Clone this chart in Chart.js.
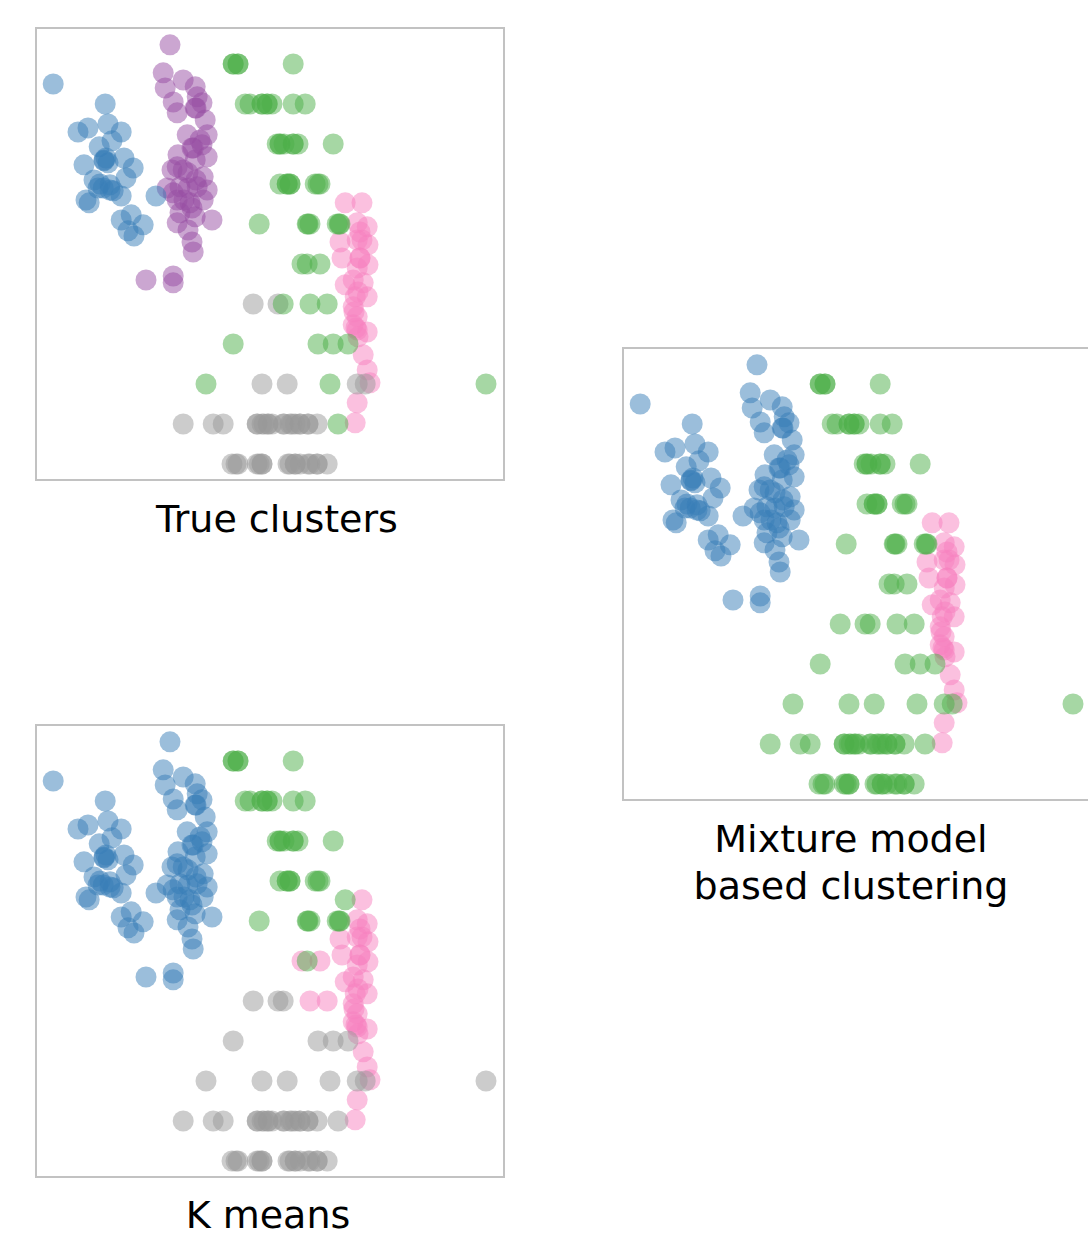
<!DOCTYPE html>
<html lang="en">
<head>
  <meta charset="UTF-8">
  <title>True clusters, mixture model and K means</title>
  <script src="https://cdn.jsdelivr.net/npm/chart.js"></script>
  <style>
    body {
      margin: 0;
      width: 1088px;
      height: 1236px;
      overflow: hidden;
      background: #fff;
      position: relative;
      font-family: "DejaVu Sans", sans-serif;
    }
    canvas {
      position: absolute;
    }
    .caption {
      position: absolute;
      width: 400px;
      text-align: center;
      font-size: 38px;
      line-height: 47px;
      color: #000;
    }
  </style>
</head>
<body>
  <canvas id="trueChart" width="470" height="454" style="left:35px;top:27px"></canvas>
  <canvas id="mixChart" width="470" height="454" style="left:622px;top:347px"></canvas>
  <canvas id="kmChart" width="470" height="454" style="left:35px;top:724px"></canvas>

  <div class="caption" style="left:77px;top:496px">True clusters</div>
  <div class="caption" style="left:651px;top:816px">Mixture model<br>based clustering</div>
  <div class="caption" style="left:68px;top:1192px">K means</div>

  <script>
    // points, grouped by true cluster: 32 / 48 / 51 / 43 / 33
    const xs = [
      4.3, 17.3, 10.5, 13, 18, 21.3, 19, 15.8, 12, 17, 18, 22, 24.3, 22.5, 14.5, 16.8,
      19.3, 21.3, 13.3, 12.5, 15.5, 30, 21.3, 23.8, 26.8, 23, 24.5, 17.5, 18.5, 17, 16, 18.5,

      33.5, 31.8, 36.8, 32.3, 39.8, 34.3, 40.3, 35.3, 39.8, 41.5, 42.3, 37.8, 42.8, 41.5,
      42.8, 39.3, 35.5, 35.3, 38, 41.8, 32.8, 36, 40.3, 42.8, 35.3, 38.5, 41.8, 36,
      39.8, 44, 35.3, 38, 39, 39.3, 34.3, 36.8, 39.8, 34, 27.5, 34.3, 34.3,
      38, 37, 40, 39, 41, 40, 39,

      49.3, 50.5, 64.3, 49.3, 50.5,
      52.3, 53.5, 56.5, 57.8, 59, 64.3, 67.3, 56.5, 57.8,
      60.3, 61, 64.3, 65.5, 74.3, 61, 62, 64.3,
      61, 62.8, 63.5, 69.8, 71, 62.8, 63.5, 70.5,
      55.8, 67.8, 68.5, 75.3, 76, 68, 75.8,
      66.5, 67.8, 71,
      61.8, 68.5, 72.8,
      49.3, 70.5, 74.3, 78,
      42.5, 73.5, 112.5,
      75.5,

      54.3, 60.5,
      56.5, 62.8, 80.3, 82.3,
      36.8, 44.3, 46.8, 55.3, 56.5, 58, 59, 61.8, 63.5, 64.8, 66, 68, 70.3,
      55.3, 58, 62, 64, 66, 68, 57,
      49, 50.5, 55.3, 56.5, 63, 64.8, 66, 68.5, 70.3, 72.8,
      50, 55.8, 56.5, 63.5, 64.8, 68, 70.3,

      77.3, 81.5, 82.8, 80.3, 76, 81.5, 83, 76.5, 81, 83, 80.3, 77.3, 81.8, 79.3,
      82.8, 79.8, 79.3, 80.3, 79.3, 82.8, 80.3, 80.5, 81.8, 82.8, 83.5, 80.3, 79.8,
      80.3, 81, 80.5, 79.5, 80, 81
    ];
    const ys = [
      99, 94, 87, 88, 89, 87, 84.8, 83.3, 78.8, 79.8, 79.3, 80.5, 78, 75.5, 75, 73,
      72.3, 71, 69.3, 70, 73, 71, 65, 66.3, 63.8, 62.3, 61, 80.5, 73.8, 80, 74, 72.5,

      108.8, 101.8, 100, 98, 98.3, 94.5, 95.8, 91.8, 93, 94.3, 90, 86.3, 86.3, 83.8,
      80.8, 83, 81.3, 78.3, 76.8, 75.8, 73, 73.3, 73.3, 72.5, 70, 69.3, 70, 66.8,
      65.8, 65, 64.3, 62.5, 59.5, 57, 71.8, 77.5, 80, 77.5, 50, 51, 49.3,
      73, 70, 75, 83, 85, 93, 68,

      104, 104, 104, 104, 104,
      94, 94, 94, 94, 94, 94, 94, 94, 94,
      84, 84, 84, 84, 84, 84, 84, 84,
      74, 74, 74, 74, 74, 74, 74, 74,
      64, 64, 64, 64, 64, 64, 64,
      54, 54, 54,
      44, 44, 44,
      34, 34, 34, 34,
      24, 24, 24,
      14,

      44, 44,
      24, 24, 24, 24,
      14, 14, 14, 14, 14, 14, 14, 14, 14, 14, 14, 14, 14,
      14, 14, 14, 14, 14, 14, 14,
      4, 4, 4, 4, 4, 4, 4, 4, 4, 4,
      4, 4, 4, 4, 4, 4, 4,

      69.3, 69.3, 63.3, 64.3, 59.5, 60, 58.8, 55.5, 55.5, 53.8, 53, 48.8, 49.3, 50,
      45.8, 45.8, 43.3, 40.8, 38.8, 37, 37.5, 35.8, 31.3, 27.5, 24.3, 19.3, 14.3,
      60, 55.5, 47, 42, 38, 62
    ];

    const trueLabels = [
      1, 1, 1, 1, 1, 1, 1, 1, 1, 1, 1, 1, 1, 1, 1, 1,
      1, 1, 1, 1, 1, 1, 1, 1, 1, 1, 1, 1, 1, 1, 1, 1,
      2, 2, 2, 2, 2, 2, 2, 2, 2, 2, 2, 2, 2, 2, 2, 2,
      2, 2, 2, 2, 2, 2, 2, 2, 2, 2, 2, 2, 2, 2, 2, 2,
      2, 2, 2, 2, 2, 2, 2, 2, 2, 2, 2, 2, 2, 2, 2, 2,
      3, 3, 3, 3, 3, 3, 3, 3, 3, 3, 3, 3, 3, 3, 3, 3,
      3, 3, 3, 3, 3, 3, 3, 3, 3, 3, 3, 3, 3, 3, 3, 3,
      3, 3, 3, 3, 3, 3, 3, 3, 3, 3, 3, 3, 3, 3, 3, 3,
      3, 3, 3,
      4, 4, 4, 4, 4, 4, 4, 4, 4, 4, 4, 4, 4, 4, 4, 4,
      4, 4, 4, 4, 4, 4, 4, 4, 4, 4, 4, 4, 4, 4, 4, 4,
      4, 4, 4, 4, 4, 4, 4, 4, 4, 4, 4,
      5, 5, 5, 5, 5, 5, 5, 5, 5, 5, 5, 5, 5, 5, 5, 5,
      5, 5, 5, 5, 5, 5, 5, 5, 5, 5, 5, 5, 5, 5, 5, 5,
      5
    ];
    const mixtureLabels = [
      1, 1, 1, 1, 1, 1, 1, 1, 1, 1, 1, 1, 1, 1, 1, 1,
      1, 1, 1, 1, 1, 1, 1, 1, 1, 1, 1, 1, 1, 1, 1, 1,
      1, 1, 1, 1, 1, 1, 1, 1, 1, 1, 1, 1, 1, 1, 1, 1,
      1, 1, 1, 1, 1, 1, 1, 1, 1, 1, 1, 1, 1, 1, 1, 1,
      1, 1, 1, 1, 1, 1, 1, 1, 1, 1, 1, 1, 1, 1, 1, 1,
      3, 3, 3, 3, 3, 3, 3, 3, 3, 3, 3, 3, 3, 3, 3, 3,
      3, 3, 3, 3, 3, 3, 3, 3, 3, 3, 3, 3, 3, 3, 3, 3,
      3, 3, 3, 3, 3, 3, 3, 3, 3, 3, 3, 3, 3, 3, 3, 3,
      3, 3, 3,
      3, 3, 3, 3, 3, 3, 3, 3, 3, 3, 3, 3, 3, 3, 3, 3,
      3, 3, 3, 3, 3, 3, 3, 3, 3, 3, 3, 3, 3, 3, 3, 3,
      3, 3, 3, 3, 3, 3, 3, 3, 3, 3, 3,
      5, 5, 5, 5, 5, 5, 5, 5, 5, 5, 5, 5, 5, 5, 5, 5,
      5, 5, 5, 5, 5, 5, 5, 5, 5, 5, 5, 5, 5, 5, 5, 5,
      5
    ];
    const kmeansLabels = [
      1, 1, 1, 1, 1, 1, 1, 1, 1, 1, 1, 1, 1, 1, 1, 1,
      1, 1, 1, 1, 1, 1, 1, 1, 1, 1, 1, 1, 1, 1, 1, 1,
      1, 1, 1, 1, 1, 1, 1, 1, 1, 1, 1, 1, 1, 1, 1, 1,
      1, 1, 1, 1, 1, 1, 1, 1, 1, 1, 1, 1, 1, 1, 1, 1,
      1, 1, 1, 1, 1, 1, 1, 1, 1, 1, 1, 1, 1, 1, 1, 1,
      3, 3, 3, 3, 3,
      3, 3, 3, 3, 3, 3, 3, 3, 3,
      3, 3, 3, 3, 3, 3, 3, 3,
      3, 3, 3, 3, 3, 3, 3, 3,
      3, 3, 3, 3, 3, 3, 3,
      5, 3, 5,
      4, 5, 5,
      4, 4, 4, 4,
      4, 4, 4,
      4,
      4, 4, 4, 4, 4, 4, 4, 4, 4, 4, 4, 4, 4, 4, 4, 4,
      4, 4, 4, 4, 4, 4, 4, 4, 4, 4, 4, 4, 4, 4, 4, 4,
      4, 4, 4, 4, 4, 4, 4, 4, 4, 4, 4,
      3, 5, 5, 5, 5, 5, 5, 5, 5, 5, 5, 5, 5, 5, 5, 5,
      5, 5, 5, 5, 5, 5, 5, 5, 5, 5, 5, 5, 5, 5, 5, 5,
      5
    ];

    const palette = {
      1: 'rgba(55, 126, 184, 0.5)',
      2: 'rgba(152, 78, 163, 0.5)',
      3: 'rgba(77, 175, 74, 0.5)',
      4: 'rgba(153, 153, 153, 0.5)',
      5: 'rgba(247, 129, 191, 0.5)'
    };

    // grey box round each plot
    const frame = {
      id: 'frame',
      afterDraw(chart) {
        const { ctx, chartArea: a } = chart;
        ctx.save();
        ctx.strokeStyle = '#c2c2c2';
        ctx.lineWidth = 2;
        ctx.strokeRect(a.left + 1, a.top + 1, a.width - 2, a.height - 2);
        ctx.restore();
      }
    };

    function drawPanel(id, labels) {
      const groups = [...new Set(labels)].sort();
      const points = xs.map((x, i) => ({ x: x, y: ys[i] }));
      new Chart(document.getElementById(id), {
        type: 'scatter',
        data: {
          datasets: groups.map(g => ({
            data: points.filter((p, i) => labels[i] === g),
            backgroundColor: palette[g],
            pointRadius: 10.5,
            pointHoverRadius: 10.5,
            pointBorderWidth: 0
          }))
        },
        options: {
          responsive: false,
          animation: false,
          events: [],
          layout: { padding: 0, autoPadding: false },
          plugins: {
            legend: { display: false },
            tooltip: { enabled: false }
          },
          scales: {
            x: { type: 'linear', min: -0.25, max: 117.25, display: false },
            y: { type: 'linear', min: -0.25, max: 113.25, display: false }
          }
        },
        plugins: [frame]
      });
    }

    drawPanel('trueChart', trueLabels);
    drawPanel('mixChart', mixtureLabels);
    drawPanel('kmChart', kmeansLabels);
  </script>
</body>
</html>
